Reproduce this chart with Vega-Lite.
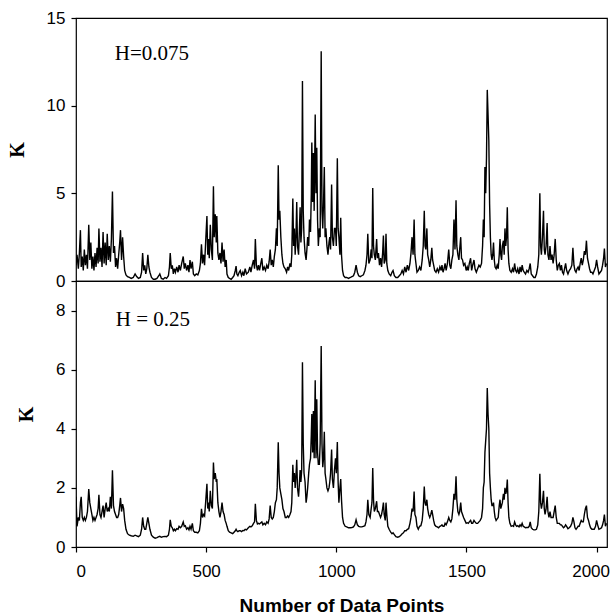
{
"$schema": "https://vega.github.io/schema/vega-lite/v6.json",
"background": "white",
"padding": {"left": 6, "top": 8, "right": 0, "bottom": 0},
"spacing": 0,
"bounds": "flush",
"config": {
 "view": {"stroke": "black", "strokeWidth": 1.2},
 "concat": {"spacing": 0},
 "axis": {"domain": false, "grid": false, "tickColor": "black", "tickSize": 5, "tickWidth": 1.2, "labelColor": "black", "labelFont": "Liberation Sans", "labelFontSize": 17, "titleColor": "black"},
 "axisY": {"labelPadding": 6, "titleFont": "Liberation Serif", "titleFontSize": 20, "titleFontWeight": "bold", "titlePadding": 19, "titleAngle": -90},
 "axisX": {"labelPadding": 11, "titleFont": "Liberation Sans", "titleFontSize": 19, "titleFontWeight": "bold", "titlePadding": 17}
},
"datasets": {
"k": [
{"x":0,"a":0.9,"b":1.7},{"x":4,"a":1.5,"b":0.7},{"x":9,"a":0.7,"b":1.0},{"x":13,"a":1.6,"b":0.9},{"x":17,"a":2.9,"b":1.5},{"x":20,"a":0.8,"b":1.7},{"x":24,"a":1.4,"b":1.0},{"x":28,"a":0.6,"b":0.9},{"x":32,"a":1.8,"b":1.0},{"x":36,"a":0.9,"b":0.9},{"x":40,"a":1.5,"b":1.0},{"x":44,"a":0.7,"b":1.2},{"x":49,"a":3.2,"b":1.96},{"x":53,"a":1.2,"b":1.5},{"x":57,"a":2.2,"b":1.3},{"x":61,"a":0.7,"b":1.1},{"x":65,"a":1.4,"b":0.9},{"x":69,"a":0.6,"b":1.0},{"x":73,"a":1.6,"b":0.9},{"x":77,"a":0.8,"b":1.0},{"x":81,"a":1.9,"b":1.1},{"x":85,"a":1.0,"b":1.3},{"x":88,"a":3.0,"b":1.77},{"x":92,"a":1.1,"b":1.1},{"x":96,"a":1.9,"b":1.0},{"x":100,"a":0.8,"b":1.2},{"x":104,"a":2.8,"b":1.4},{"x":108,"a":1.0,"b":1.0},{"x":112,"a":2.2,"b":1.3},{"x":116,"a":0.9,"b":1.5},{"x":120,"a":2.7,"b":1.2},{"x":124,"a":1.2,"b":1.3},{"x":128,"a":2.0,"b":1.2},{"x":132,"a":1.1,"b":1.7},{"x":136,"a":2.4,"b":1.3},{"x":140,"a":5.1,"b":2.6},{"x":144,"a":1.6,"b":1.4},{"x":148,"a":2.0,"b":1.2},{"x":152,"a":0.8,"b":1.1},{"x":156,"a":1.3,"b":1.0},{"x":160,"a":0.7,"b":1.0},{"x":164,"a":1.5,"b":1.1},{"x":168,"a":2.2,"b":1.4},{"x":171,"a":2.9,"b":1.66},{"x":175,"a":1.2,"b":1.2},{"x":179,"a":2.5,"b":1.45},{"x":183,"a":1.4,"b":1.3},{"x":187,"a":0.6,"b":0.9},{"x":192,"a":0.35,"b":0.6},{"x":198,"a":0.25,"b":0.45},{"x":205,"a":0.2,"b":0.4},{"x":212,"a":0.15,"b":0.38},{"x":220,"a":0.2,"b":0.36},{"x":227,"a":0.4,"b":0.4},{"x":233,"a":0.25,"b":0.38},{"x":240,"a":0.15,"b":0.35},{"x":247,"a":0.2,"b":0.4},{"x":252,"a":0.5,"b":0.6},{"x":256,"a":1.6,"b":1.0},{"x":260,"a":0.6,"b":0.7},{"x":264,"a":0.9,"b":0.6},{"x":268,"a":0.4,"b":0.6},{"x":272,"a":0.7,"b":0.8},{"x":276,"a":1.5,"b":1.0},{"x":280,"a":0.8,"b":0.8},{"x":284,"a":0.5,"b":0.6},{"x":290,"a":0.2,"b":0.4},{"x":297,"a":0.1,"b":0.33},{"x":304,"a":0.1,"b":0.3},{"x":311,"a":0.15,"b":0.32},{"x":318,"a":0.3,"b":0.35},{"x":322,"a":0.4,"b":0.36},{"x":328,"a":0.15,"b":0.33},{"x":335,"a":0.1,"b":0.35},{"x":342,"a":0.2,"b":0.36},{"x":348,"a":0.15,"b":0.35},{"x":355,"a":0.3,"b":0.4},{"x":359,"a":0.8,"b":0.6},{"x":362,"a":1.6,"b":0.92},{"x":366,"a":0.7,"b":0.7},{"x":370,"a":0.9,"b":0.65},{"x":374,"a":0.4,"b":0.55},{"x":378,"a":0.7,"b":0.6},{"x":382,"a":0.5,"b":0.55},{"x":387,"a":0.8,"b":0.62},{"x":392,"a":0.5,"b":0.6},{"x":396,"a":0.9,"b":0.7},{"x":401,"a":0.6,"b":0.65},{"x":406,"a":1.0,"b":0.7},{"x":412,"a":1.4,"b":0.85},{"x":416,"a":0.7,"b":0.7},{"x":420,"a":1.0,"b":0.72},{"x":425,"a":0.6,"b":0.6},{"x":430,"a":0.9,"b":0.65},{"x":434,"a":0.5,"b":0.58},{"x":438,"a":1.2,"b":0.7},{"x":442,"a":0.7,"b":0.6},{"x":447,"a":1.1,"b":0.8},{"x":451,"a":0.4,"b":0.55},{"x":456,"a":0.3,"b":0.5},{"x":462,"a":0.4,"b":0.5},{"x":468,"a":0.35,"b":0.48},{"x":474,"a":0.6,"b":0.55},{"x":478,"a":1.0,"b":0.8},{"x":482,"a":2.1,"b":1.29},{"x":486,"a":1.0,"b":1.0},{"x":490,"a":1.5,"b":1.1},{"x":494,"a":0.9,"b":1.05},{"x":498,"a":2.2,"b":1.5},{"x":503,"a":3.7,"b":2.14},{"x":506,"a":1.5,"b":1.3},{"x":509,"a":2.4,"b":1.5},{"x":512,"a":1.3,"b":1.2},{"x":516,"a":3.2,"b":1.9},{"x":520,"a":1.8,"b":1.4},{"x":524,"a":1.2,"b":1.3},{"x":528,"a":5.4,"b":2.86},{"x":531,"a":2.5,"b":2.3},{"x":535,"a":3.8,"b":2.5},{"x":539,"a":2.2,"b":2.2},{"x":541,"a":3.7,"b":2.3},{"x":545,"a":1.6,"b":1.5},{"x":549,"a":1.2,"b":1.2},{"x":553,"a":1.6,"b":1.0},{"x":557,"a":1.0,"b":1.2},{"x":561,"a":2.2,"b":1.5},{"x":565,"a":1.1,"b":1.2},{"x":569,"a":1.8,"b":1.1},{"x":573,"a":0.8,"b":0.9},{"x":577,"a":1.2,"b":0.8},{"x":580,"a":0.4,"b":0.7},{"x":585,"a":0.2,"b":0.55},{"x":590,"a":0.15,"b":0.5},{"x":596,"a":0.1,"b":0.48},{"x":602,"a":0.2,"b":0.45},{"x":607,"a":0.3,"b":0.5},{"x":612,"a":0.6,"b":0.55},{"x":615,"a":0.85,"b":0.6},{"x":618,"a":0.4,"b":0.55},{"x":622,"a":0.3,"b":0.52},{"x":627,"a":0.5,"b":0.55},{"x":631,"a":0.6,"b":0.55},{"x":636,"a":0.3,"b":0.52},{"x":641,"a":0.5,"b":0.56},{"x":645,"a":0.3,"b":0.55},{"x":650,"a":0.7,"b":0.6},{"x":655,"a":0.4,"b":0.58},{"x":662,"a":0.5,"b":0.65},{"x":668,"a":0.8,"b":0.7},{"x":672,"a":0.5,"b":0.68},{"x":677,"a":0.9,"b":0.72},{"x":682,"a":1.2,"b":0.8},{"x":686,"a":0.7,"b":0.85},{"x":689,"a":2.4,"b":1.46},{"x":693,"a":0.9,"b":0.9},{"x":697,"a":0.6,"b":0.78},{"x":701,"a":0.9,"b":0.8},{"x":705,"a":0.6,"b":0.78},{"x":710,"a":1.0,"b":0.82},{"x":714,"a":1.3,"b":0.85},{"x":718,"a":0.6,"b":0.75},{"x":723,"a":0.8,"b":0.8},{"x":728,"a":0.6,"b":0.75},{"x":733,"a":0.9,"b":0.85},{"x":738,"a":0.7,"b":0.8},{"x":742,"a":1.1,"b":0.95},{"x":746,"a":1.8,"b":1.4},{"x":750,"a":0.9,"b":1.0},{"x":754,"a":1.2,"b":0.95},{"x":758,"a":0.8,"b":1.0},{"x":762,"a":1.4,"b":1.2},{"x":766,"a":1.8,"b":1.5},{"x":770,"a":3.0,"b":1.6},{"x":773,"a":2.0,"b":2.0},{"x":777,"a":6.6,"b":3.54},{"x":780,"a":3.5,"b":2.5},{"x":783,"a":4.0,"b":2.0},{"x":787,"a":2.5,"b":1.8},{"x":791,"a":1.5,"b":1.6},{"x":795,"a":1.0,"b":1.3},{"x":799,"a":0.8,"b":1.2},{"x":804,"a":0.7,"b":1.0},{"x":809,"a":0.5,"b":1.0},{"x":813,"a":0.8,"b":1.05},{"x":817,"a":0.6,"b":1.0},{"x":822,"a":1.0,"b":1.1},{"x":826,"a":0.8,"b":1.2},{"x":829,"a":1.5,"b":1.5},{"x":833,"a":4.7,"b":2.78},{"x":836,"a":2.0,"b":2.2},{"x":839,"a":3.0,"b":2.5},{"x":842,"a":1.5,"b":2.0},{"x":845,"a":2.5,"b":2.4},{"x":848,"a":4.5,"b":2.95},{"x":851,"a":2.0,"b":2.0},{"x":855,"a":1.5,"b":1.7},{"x":858,"a":2.8,"b":2.1},{"x":861,"a":4.2,"b":2.6},{"x":864,"a":2.2,"b":2.2},{"x":867,"a":3.0,"b":2.6},{"x":870,"a":11.4,"b":6.25},{"x":873,"a":4.0,"b":3.5},{"x":876,"a":2.5,"b":2.5},{"x":880,"a":1.6,"b":2.2},{"x":884,"a":1.2,"b":1.5},{"x":887,"a":1.8,"b":1.7},{"x":890,"a":2.5,"b":2.0},{"x":894,"a":2.0,"b":2.5},{"x":897,"a":3.5,"b":2.8},{"x":901,"a":2.8,"b":3.0},{"x":904,"a":5.0,"b":3.8},{"x":906,"a":7.9,"b":4.5},{"x":909,"a":4.5,"b":3.2},{"x":912,"a":7.3,"b":4.6},{"x":915,"a":4.0,"b":3.0},{"x":919,"a":9.5,"b":5.64},{"x":922,"a":5.0,"b":3.0},{"x":925,"a":7.6,"b":5.0},{"x":928,"a":3.5,"b":3.2},{"x":931,"a":2.0,"b":2.8},{"x":935,"a":3.0,"b":2.8},{"x":938,"a":2.5,"b":3.5},{"x":942,"a":13.1,"b":6.8},{"x":945,"a":4.0,"b":3.5},{"x":948,"a":3.0,"b":2.7},{"x":951,"a":4.5,"b":3.0},{"x":954,"a":6.5,"b":3.9},{"x":957,"a":2.5,"b":2.5},{"x":960,"a":3.0,"b":2.3},{"x":964,"a":2.0,"b":2.0},{"x":968,"a":1.5,"b":1.9},{"x":972,"a":2.2,"b":2.0},{"x":975,"a":2.5,"b":2.2},{"x":978,"a":1.8,"b":2.5},{"x":982,"a":5.5,"b":3.3},{"x":985,"a":2.5,"b":2.3},{"x":989,"a":2.0,"b":2.0},{"x":993,"a":3.0,"b":2.6},{"x":997,"a":3.0,"b":3.0},{"x":1000,"a":2.0,"b":2.5},{"x":1004,"a":7.0,"b":3.55},{"x":1007,"a":3.0,"b":2.2},{"x":1010,"a":2.5,"b":1.5},{"x":1014,"a":1.5,"b":2.0},{"x":1017,"a":3.6,"b":2.3},{"x":1020,"a":1.5,"b":1.6},{"x":1024,"a":0.6,"b":1.0},{"x":1028,"a":0.3,"b":0.8},{"x":1034,"a":0.2,"b":0.7},{"x":1040,"a":0.2,"b":0.68},{"x":1047,"a":0.15,"b":0.65},{"x":1054,"a":0.2,"b":0.65},{"x":1060,"a":0.25,"b":0.66},{"x":1066,"a":0.3,"b":0.68},{"x":1071,"a":0.5,"b":0.75},{"x":1076,"a":0.9,"b":0.92},{"x":1081,"a":0.5,"b":0.75},{"x":1086,"a":0.3,"b":0.7},{"x":1092,"a":0.25,"b":0.68},{"x":1098,"a":0.3,"b":0.68},{"x":1104,"a":0.35,"b":0.7},{"x":1110,"a":0.6,"b":0.72},{"x":1114,"a":0.9,"b":0.85},{"x":1118,"a":1.5,"b":1.1},{"x":1121,"a":2.7,"b":1.6},{"x":1125,"a":1.0,"b":1.1},{"x":1130,"a":1.2,"b":1.0},{"x":1134,"a":1.8,"b":1.3},{"x":1137,"a":1.3,"b":1.5},{"x":1140,"a":5.3,"b":2.67},{"x":1143,"a":2.0,"b":1.6},{"x":1146,"a":1.5,"b":1.2},{"x":1150,"a":1.2,"b":1.3},{"x":1155,"a":2.4,"b":1.55},{"x":1158,"a":1.3,"b":1.2},{"x":1162,"a":1.6,"b":1.2},{"x":1166,"a":0.9,"b":1.1},{"x":1170,"a":1.3,"b":1.0},{"x":1174,"a":0.8,"b":1.1},{"x":1178,"a":1.6,"b":1.3},{"x":1181,"a":2.6,"b":1.5},{"x":1184,"a":1.0,"b":1.1},{"x":1188,"a":1.2,"b":0.9},{"x":1191,"a":2.7,"b":1.5},{"x":1194,"a":1.0,"b":1.1},{"x":1198,"a":0.6,"b":0.7},{"x":1203,"a":0.4,"b":0.6},{"x":1209,"a":0.3,"b":0.5},{"x":1214,"a":0.5,"b":0.45},{"x":1218,"a":0.6,"b":0.48},{"x":1223,"a":0.3,"b":0.42},{"x":1229,"a":0.2,"b":0.35},{"x":1236,"a":0.2,"b":0.33},{"x":1242,"a":0.3,"b":0.35},{"x":1248,"a":0.4,"b":0.4},{"x":1253,"a":0.6,"b":0.45},{"x":1258,"a":0.4,"b":0.48},{"x":1263,"a":0.8,"b":0.55},{"x":1268,"a":0.5,"b":0.55},{"x":1273,"a":0.9,"b":0.6},{"x":1278,"a":0.6,"b":0.62},{"x":1283,"a":1.0,"b":0.8},{"x":1287,"a":1.6,"b":1.0},{"x":1291,"a":2.5,"b":1.3},{"x":1295,"a":1.5,"b":1.2},{"x":1299,"a":3.5,"b":1.88},{"x":1302,"a":1.5,"b":1.1},{"x":1306,"a":1.0,"b":1.0},{"x":1310,"a":0.5,"b":0.7},{"x":1315,"a":0.6,"b":0.6},{"x":1320,"a":0.8,"b":0.7},{"x":1325,"a":0.6,"b":0.72},{"x":1330,"a":1.2,"b":0.9},{"x":1334,"a":2.0,"b":1.3},{"x":1338,"a":4.0,"b":2.05},{"x":1341,"a":2.0,"b":1.5},{"x":1344,"a":1.8,"b":1.4},{"x":1348,"a":3.0,"b":1.6},{"x":1351,"a":1.5,"b":1.3},{"x":1355,"a":1.2,"b":1.1},{"x":1359,"a":0.8,"b":1.0},{"x":1363,"a":1.2,"b":1.1},{"x":1367,"a":1.9,"b":1.25},{"x":1370,"a":1.2,"b":1.1},{"x":1374,"a":0.9,"b":0.9},{"x":1378,"a":0.6,"b":0.75},{"x":1383,"a":0.5,"b":0.7},{"x":1388,"a":0.7,"b":0.68},{"x":1393,"a":0.5,"b":0.65},{"x":1398,"a":0.8,"b":0.7},{"x":1403,"a":0.6,"b":0.72},{"x":1406,"a":0.9,"b":0.75},{"x":1410,"a":0.5,"b":0.7},{"x":1414,"a":0.7,"b":0.7},{"x":1418,"a":1.0,"b":0.8},{"x":1422,"a":0.6,"b":0.75},{"x":1427,"a":1.0,"b":0.85},{"x":1432,"a":1.8,"b":1.0},{"x":1436,"a":0.9,"b":0.9},{"x":1440,"a":0.7,"b":0.85},{"x":1444,"a":1.2,"b":0.95},{"x":1448,"a":1.5,"b":1.3},{"x":1452,"a":3.5,"b":1.8},{"x":1456,"a":1.8,"b":1.6},{"x":1460,"a":4.6,"b":2.39},{"x":1463,"a":2.0,"b":1.6},{"x":1467,"a":1.5,"b":1.2},{"x":1471,"a":1.2,"b":1.1},{"x":1474,"a":1.8,"b":1.2},{"x":1478,"a":2.5,"b":1.5},{"x":1481,"a":1.3,"b":1.2},{"x":1485,"a":1.2,"b":1.1},{"x":1489,"a":0.9,"b":1.0},{"x":1494,"a":1.0,"b":0.9},{"x":1499,"a":0.6,"b":0.8},{"x":1503,"a":0.8,"b":0.82},{"x":1507,"a":0.6,"b":0.8},{"x":1511,"a":1.0,"b":0.85},{"x":1516,"a":1.3,"b":0.9},{"x":1520,"a":0.6,"b":0.8},{"x":1524,"a":0.9,"b":0.8},{"x":1529,"a":1.2,"b":0.9},{"x":1533,"a":0.7,"b":0.85},{"x":1538,"a":0.5,"b":0.8},{"x":1543,"a":0.7,"b":0.8},{"x":1548,"a":0.9,"b":0.85},{"x":1553,"a":0.8,"b":0.9},{"x":1558,"a":1.0,"b":1.0},{"x":1562,"a":2.0,"b":1.3},{"x":1565,"a":3.5,"b":2.0},{"x":1568,"a":2.5,"b":2.2},{"x":1571,"a":6.5,"b":3.2},{"x":1574,"a":5.0,"b":3.6},{"x":1577,"a":7.0,"b":4.0},{"x":1580,"a":10.9,"b":5.38},{"x":1583,"a":9.5,"b":4.5},{"x":1586,"a":8.0,"b":4.0},{"x":1589,"a":4.4,"b":2.5},{"x":1592,"a":2.5,"b":2.0},{"x":1595,"a":1.5,"b":1.6},{"x":1598,"a":1.2,"b":1.4},{"x":1601,"a":1.5,"b":1.4},{"x":1604,"a":2.2,"b":1.5},{"x":1607,"a":1.2,"b":1.2},{"x":1610,"a":0.8,"b":1.0},{"x":1614,"a":0.7,"b":0.9},{"x":1618,"a":0.9,"b":0.95},{"x":1622,"a":0.7,"b":1.0},{"x":1626,"a":1.5,"b":1.4},{"x":1629,"a":2.4,"b":1.6},{"x":1632,"a":1.5,"b":1.3},{"x":1635,"a":1.2,"b":1.4},{"x":1638,"a":2.0,"b":1.5},{"x":1642,"a":2.3,"b":1.8},{"x":1645,"a":1.5,"b":1.6},{"x":1648,"a":3.0,"b":2.0},{"x":1651,"a":2.0,"b":1.8},{"x":1654,"a":2.5,"b":1.9},{"x":1657,"a":4.2,"b":2.28},{"x":1660,"a":1.8,"b":1.5},{"x":1663,"a":1.0,"b":1.0},{"x":1667,"a":0.6,"b":0.8},{"x":1672,"a":0.5,"b":0.7},{"x":1677,"a":0.7,"b":0.72},{"x":1681,"a":0.5,"b":0.7},{"x":1685,"a":1.0,"b":0.85},{"x":1689,"a":0.6,"b":0.75},{"x":1693,"a":0.5,"b":0.7},{"x":1697,"a":0.7,"b":0.72},{"x":1702,"a":0.4,"b":0.68},{"x":1706,"a":0.8,"b":0.75},{"x":1710,"a":0.5,"b":0.7},{"x":1714,"a":0.9,"b":0.8},{"x":1718,"a":0.6,"b":0.7},{"x":1722,"a":0.5,"b":0.68},{"x":1727,"a":0.4,"b":0.65},{"x":1732,"a":0.6,"b":0.66},{"x":1737,"a":0.5,"b":0.66},{"x":1741,"a":0.7,"b":0.7},{"x":1745,"a":1.0,"b":0.85},{"x":1749,"a":0.4,"b":0.65},{"x":1754,"a":0.3,"b":0.6},{"x":1759,"a":0.2,"b":0.58},{"x":1764,"a":0.2,"b":0.58},{"x":1769,"a":0.4,"b":0.6},{"x":1774,"a":0.8,"b":0.75},{"x":1778,"a":1.5,"b":1.2},{"x":1782,"a":5.0,"b":2.48},{"x":1785,"a":2.0,"b":1.5},{"x":1788,"a":1.5,"b":1.3},{"x":1792,"a":2.5,"b":1.5},{"x":1796,"a":4.0,"b":1.9},{"x":1799,"a":1.8,"b":1.3},{"x":1802,"a":1.5,"b":1.1},{"x":1806,"a":2.0,"b":1.3},{"x":1810,"a":3.3,"b":1.7},{"x":1813,"a":1.5,"b":1.2},{"x":1817,"a":1.2,"b":1.0},{"x":1821,"a":2.0,"b":1.2},{"x":1825,"a":1.2,"b":1.0},{"x":1829,"a":1.5,"b":1.0},{"x":1833,"a":1.0,"b":1.0},{"x":1837,"a":1.5,"b":1.2},{"x":1841,"a":2.4,"b":1.4},{"x":1845,"a":1.2,"b":1.0},{"x":1849,"a":0.6,"b":0.8},{"x":1853,"a":0.9,"b":0.8},{"x":1857,"a":1.0,"b":0.8},{"x":1861,"a":0.6,"b":0.75},{"x":1865,"a":0.9,"b":0.75},{"x":1869,"a":0.5,"b":0.7},{"x":1873,"a":0.4,"b":0.65},{"x":1877,"a":0.7,"b":0.68},{"x":1881,"a":1.0,"b":0.75},{"x":1885,"a":0.6,"b":0.7},{"x":1890,"a":0.4,"b":0.62},{"x":1895,"a":0.6,"b":0.65},{"x":1900,"a":0.7,"b":0.7},{"x":1905,"a":0.9,"b":0.8},{"x":1909,"a":1.9,"b":1.0},{"x":1913,"a":0.9,"b":0.85},{"x":1917,"a":0.6,"b":0.65},{"x":1921,"a":0.5,"b":0.6},{"x":1925,"a":0.7,"b":0.65},{"x":1929,"a":0.8,"b":0.7},{"x":1933,"a":0.6,"b":0.7},{"x":1937,"a":1.0,"b":0.8},{"x":1941,"a":1.3,"b":0.9},{"x":1945,"a":0.9,"b":0.85},{"x":1949,"a":1.2,"b":0.85},{"x":1953,"a":1.7,"b":1.1},{"x":1957,"a":1.5,"b":1.3},{"x":1961,"a":2.3,"b":1.4},{"x":1965,"a":1.3,"b":1.0},{"x":1969,"a":1.0,"b":0.9},{"x":1973,"a":0.7,"b":0.75},{"x":1977,"a":0.5,"b":0.65},{"x":1982,"a":0.5,"b":0.6},{"x":1986,"a":0.4,"b":0.6},{"x":1991,"a":0.6,"b":0.6},{"x":1996,"a":0.8,"b":0.7},{"x":2000,"a":1.2,"b":0.9},{"x":2004,"a":0.8,"b":0.75},{"x":2009,"a":0.4,"b":0.6},{"x":2014,"a":0.5,"b":0.62},{"x":2019,"a":0.6,"b":0.65},{"x":2023,"a":0.9,"b":0.75},{"x":2027,"a":1.3,"b":0.9},{"x":2030,"a":1.85,"b":1.1},{"x":2034,"a":0.8,"b":0.7},{"x":2038,"a":1.0,"b":0.8}
],
"top": [{"x":149,"y":12.59,"t":"H=0.075"}],
"bot": [{"x":153,"y":7.47,"t":"H = 0.25"}]
},
"vconcat": [
 {
  "width": 531, "height": 263,
  "layer": [
   {"data": {"name": "k"}, "mark": {"type": "line", "color": "black", "strokeWidth": 1.4, "clip": true},
    "encoding": {
     "x": {"field": "x", "type": "quantitative", "scale": {"domain": [0, 2040], "nice": false}, "axis": null},
     "y": {"field": "a", "type": "quantitative", "scale": {"domain": [0, 15], "nice": false}, "axis": {"values": [0, 5, 10, 15], "title": "K"}}
    }},
   {"data": {"name": "top"}, "mark": {"type": "text", "font": "Liberation Serif", "fontSize": 21, "align": "left", "baseline": "alphabetic", "color": "black"},
    "encoding": {
     "x": {"field": "x", "type": "quantitative", "axis": null},
     "y": {"field": "y", "type": "quantitative"},
     "text": {"field": "t"}
    }}
  ]
 },
 {
  "width": 531, "height": 266,
  "layer": [
   {"data": {"name": "k"}, "mark": {"type": "line", "color": "black", "strokeWidth": 1.4, "clip": true},
    "encoding": {
     "x": {"field": "x", "type": "quantitative", "scale": {"domain": [0, 2040], "nice": false}, "axis": {"values": [0, 500, 1000, 1500, 2000], "format": "d", "title": "Number of Data Points", "labelOffset": {"condition": {"test": "datum.value == 2000", "value": -6}, "value": 0}}},
     "y": {"field": "b", "type": "quantitative", "scale": {"domain": [0, 9], "nice": false}, "axis": {"values": [0, 2, 4, 6, 8], "title": "K"}}
    }},
   {"data": {"name": "bot"}, "mark": {"type": "text", "font": "Liberation Serif", "fontSize": 21, "align": "left", "baseline": "alphabetic", "color": "black"},
    "encoding": {
     "x": {"field": "x", "type": "quantitative"},
     "y": {"field": "y", "type": "quantitative"},
     "text": {"field": "t"}
    }}
  ]
 }
]
}
